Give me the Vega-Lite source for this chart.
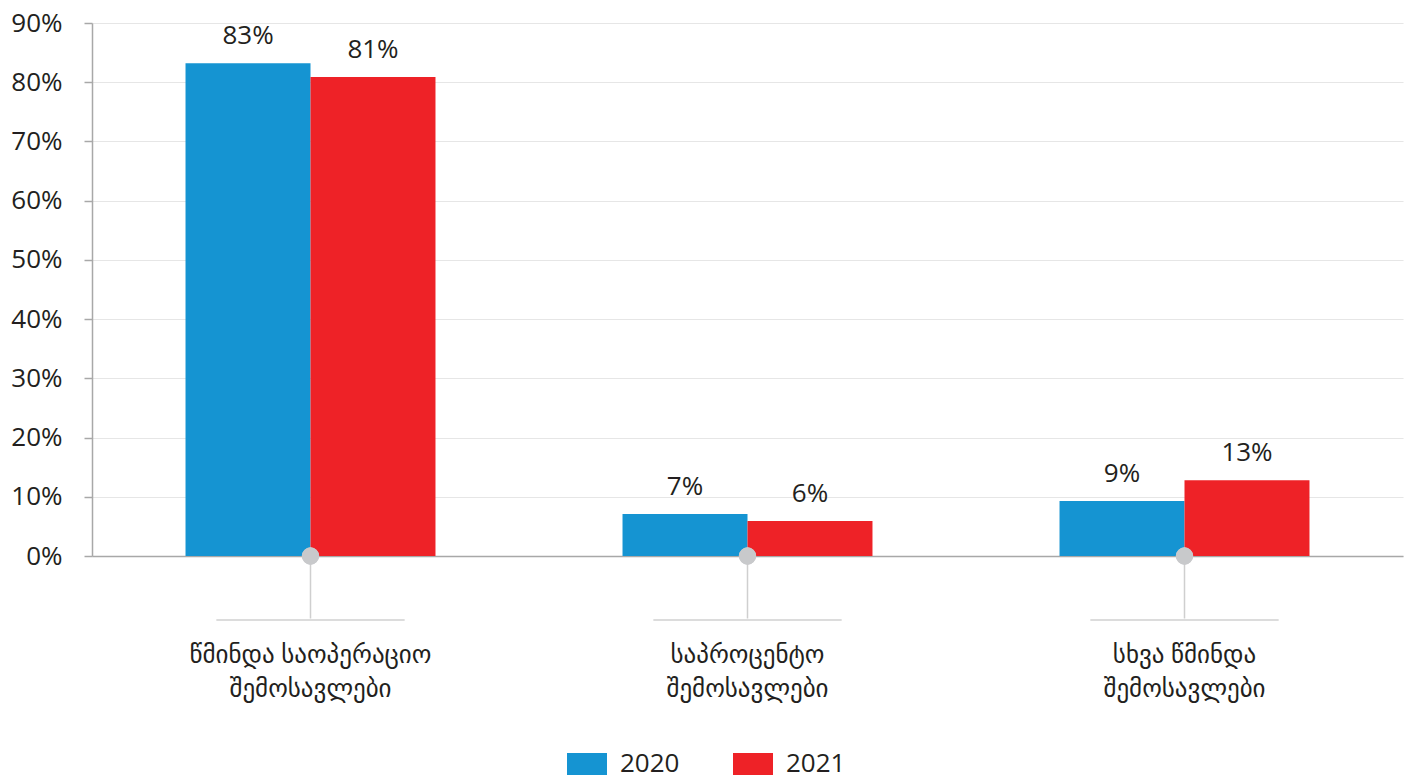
{
  "$schema": "https://vega.github.io/schema/vega-lite/v6.json",
  "width": 1311,
  "height": 533,
  "padding": {"left": 10, "top": 10, "right": 5, "bottom": 0},
  "background": "white",
  "config": {
    "font": "Open Sans, DejaVu Sans",
    "view": {"stroke": null}
  },
  "data": {
    "values": [
      {"category": "წმინდა საოპერაციო|შემოსავლები", "year": "2020", "value": 83.2, "label": "83%"},
      {"category": "წმინდა საოპერაციო|შემოსავლები", "year": "2021", "value": 80.9, "label": "81%"},
      {"category": "საპროცენტო|შემოსავლები", "year": "2020", "value": 7.1, "label": "7%"},
      {"category": "საპროცენტო|შემოსავლები", "year": "2021", "value": 5.9, "label": "6%"},
      {"category": "სხვა წმინდა|შემოსავლები", "year": "2020", "value": 9.3, "label": "9%"},
      {"category": "სხვა წმინდა|შემოსავლები", "year": "2021", "value": 12.8, "label": "13%"}
    ]
  },
  "encoding": {
    "x": {
      "field": "category",
      "type": "nominal",
      "sort": null,
      "scale": {"paddingInner": 0.428, "paddingOuter": 0.214},
      "axis": {
        "title": null,
        "labelAngle": 0,
        "labelExpr": "split(datum.label, '|')",
        "labelFontSize": 25,
        "labelColor": "#231f20",
        "labelLineHeight": 34,
        "labelLimit": 500,
        "labelPadding": 24,
        "tickSize": 62,
        "tickColor": "#cfcfcf",
        "tickWidth": 1.5,
        "domainColor": "#a8a8a8",
        "domainWidth": 1.5
      }
    }
  },
  "layer": [
    {
      "mark": {"type": "bar"},
      "encoding": {
        "xOffset": {"field": "year", "type": "nominal"},
        "y": {
          "field": "value",
          "type": "quantitative",
          "scale": {"domain": [0, 90]},
          "axis": {
            "title": null,
            "values": [0, 10, 20, 30, 40, 50, 60, 70, 80, 90],
            "labelExpr": "datum.value + '%'",
            "labelFontSize": 26,
            "labelColor": "#231f20",
            "labelPadding": 22,
            "tickSize": 8,
            "tickColor": "#a8a8a8",
            "tickWidth": 1.5,
            "domainColor": "#a8a8a8",
            "domainWidth": 1.5,
            "gridColor": "#e6e6e6",
            "gridWidth": 1.2
          }
        },
        "color": {
          "field": "year",
          "type": "nominal",
          "scale": {"domain": ["2020", "2021"], "range": ["#1594d2", "#ee2227"]},
          "legend": {
            "title": null,
            "orient": "none",
            "legendX": 475,
            "legendY": 721,
            "direction": "horizontal",
            "symbolType": "M-1,-0.55H1V0.55H-1Z",
            "symbolSize": 1600,
            "symbolStrokeWidth": 0,
            "symbolOpacity": 1,
            "labelFontSize": 26,
            "labelColor": "#231f20",
            "labelOffset": 13,
            "columnPadding": 53
          }
        }
      }
    },
    {
      "mark": {"type": "text", "baseline": "bottom", "dy": -14, "fontSize": 26, "color": "#231f20"},
      "encoding": {
        "xOffset": {"field": "year", "type": "nominal"},
        "y": {"field": "value", "type": "quantitative"},
        "text": {"field": "label"}
      }
    },
    {
      "mark": {"type": "tick", "orient": "horizontal", "size": 188, "thickness": 2, "color": "#d9d9d9"},
      "encoding": {
        "y": {"datum": -10.8, "type": "quantitative"}
      }
    },
    {
      "mark": {"type": "point", "filled": true, "size": 300, "color": "#c8c9cb", "opacity": 1},
      "encoding": {
        "y": {"datum": 0, "type": "quantitative"}
      }
    }
  ]
}
